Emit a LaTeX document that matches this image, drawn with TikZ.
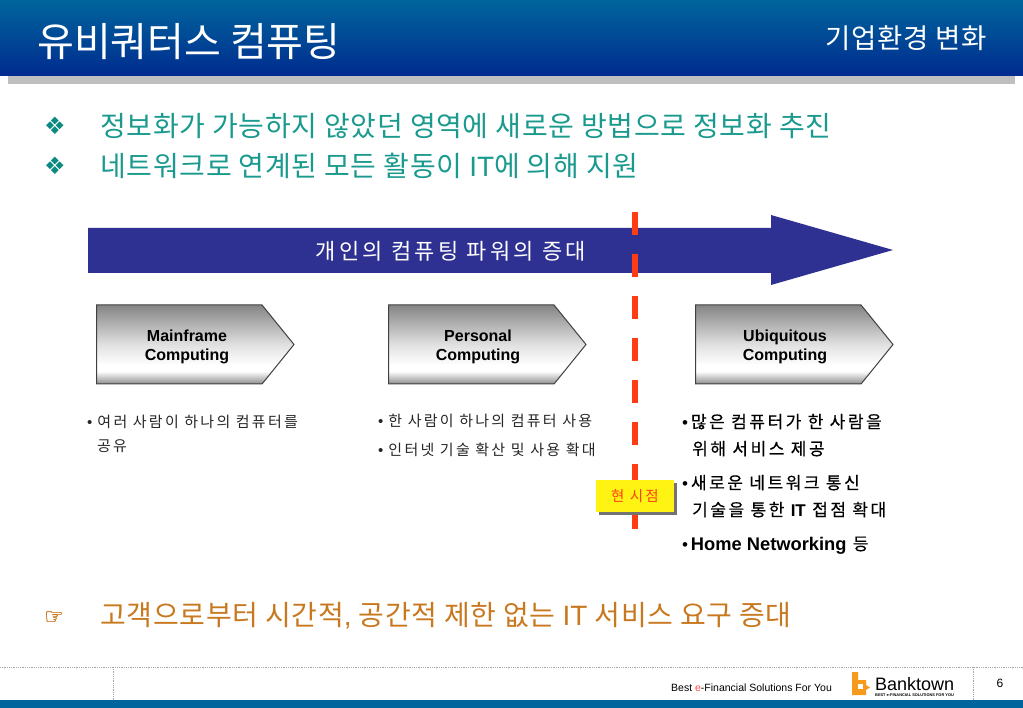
\documentclass[tikz,border=0pt]{standalone}
\usepackage{fontspec}
\setmainfont{Liberation Sans}
\newfontfamily\kr{Noto Sans CJK KR}
\newfontfamily\krwide[LetterSpace=15]{Noto Sans CJK KR}
\newfontfamily\krbold[LetterSpace=15,FakeBold=0.4]{Noto Sans CJK KR}
\newfontfamily\krtight[LetterSpace=2.5]{Noto Sans CJK KR}
\newfontfamily\symb{DejaVu Sans}
\newfontfamily\symbbold[FakeBold=1]{DejaVu Sans}
\usetikzlibrary{shapes.symbols}
\definecolor{headtop}{HTML}{00659C}
\definecolor{headbot}{HTML}{002B8F}
\definecolor{tealtext}{HTML}{1A9A8E}
\definecolor{tealmark}{HTML}{0A8A80}
\definecolor{ordertext}{HTML}{C8781E}
\definecolor{arrowblue}{HTML}{2E3192}
\definecolor{nowred}{HTML}{FF3D14}
\definecolor{logoorange}{HTML}{F59A1B}
\pgfdeclareverticalshading{chevshade}{100bp}{color(0bp)=(black!45); color(25bp)=(black!45); color(33bp)=(white); color(37bp)=(white); color(50bp)=(black!12); color(75bp)=(black!48); color(100bp)=(black!48)}
\newcommand{\lat}[1]{{\rmfamily #1}}
\newcommand{\fs}[2]{\fontsize{#1}{#2}\selectfont}
\tikzset{
	headline/.style={anchor=base west,text=white,inner sep=0pt,font=\kr\fs{40}{44}},
	bodyline/.style={anchor=base west,text=tealtext,inner sep=0pt,font=\krtight\fs{28}{34}},
	markline/.style={anchor=base west,text=tealmark,inner sep=0pt,font=\symb\fs{24}{26}},
	smalllist/.style={anchor=base west,align=left,inner sep=0pt,text=black!85,font=\krwide\fs{15}{24}},
	biglist/.style={anchor=base west,align=left,inner sep=0pt,text=black,font=\krbold\fs{17}{27}},
	chevron/.style={signal,signal to=east,signal pointer angle=102,draw=black!75,line width=1pt,
		minimum width=197.5pt,minimum height=79pt,inner sep=0pt,anchor=west,shading=chevshade},
	chevlabel/.style={align=center,inner sep=0pt,font=\bfseries\fs{16}{19}},
	footline/.style={draw=black!35,densely dotted,line width=0.8pt}
}
\begin{document}
\begin{tikzpicture}[x=1pt,y=-1pt]
	\useasboundingbox (0,0) rectangle (1023,708);
	\shade[top color=headtop,bottom color=headbot] (0,0) rectangle (1023,76);
	\fill[black!25] (8,76) rectangle (1015,84);
	\node[headline] (title) at (37,57) {유비쿼터스 컴퓨팅};
	\node[headline,font=\krtight\fs{27.5}{30}] (section) at (825,49) {기업환경 변화};

	\node[markline] (mark1) at (44,135) {❖};
	\node[bodyline] (point1) at (100,137) {정보화가 가능하지 않았던 영역에 새로운 방법으로 정보화 추진};
	\node[markline] (mark2) at (44,175) {❖};
	\node[bodyline] (point2) at (100,177) {네트워크로 연계된 모든 활동이 \lat{IT}에 의해 지원};

	\fill[arrowblue] (88,228) -- (771,228) -- (771,215) -- (893,250) -- (771,285) -- (771,273) -- (88,273) -- cycle;
	\node[anchor=base,text=white,inner sep=0pt,font=\krwide\fs{22}{26}] (powerlabel) at (451,260) {개인의 컴퓨팅 파워의 증대};

	\node[chevron] (mainframe) at (96,344.5) {};
	\node[chevron] (personal) at (388,344.5) {};
	\node[chevron] (ubiquitous) at (695,344.5) {};
	\node[chevlabel] (mainlabel) at (187,347) {Mainframe\\Computing};
	\node[chevlabel] (perlabel) at (478,347) {Personal\\Computing};
	\node[chevlabel] (ubilabel) at (785,347) {Ubiquitous\\Computing};

	\node[smalllist] (mainlist) at (87,451) {\lat{•}\,\,여러 사람이 하나의 컴퓨터를\\\hspace*{10pt}공유};
	\node[smalllist] (perlist) at (378,456) {\lat{•}\,\,한 사람이 하나의 컴퓨터 사용\\[5pt]\lat{•}\,\,인터넷 기술 확산 및 사용 확대};
	\node[biglist] (ubilist1) at (682,455) {\lat{•}\,많은 컴퓨터가 한 사람을\\\hspace*{10pt}위해 서비스 제공};
	\node[biglist] (ubilist2) at (682,516) {\lat{•}\,새로운 네트워크 통신\\\hspace*{10pt}기술을 통한 \lat{\bfseries IT} 접점 확대};
	\node[biglist] (ubilist3) at (682,550) {\lat{•}\,\lat{\bfseries\fs{18.3}{27}Home Networking} 등};

	\coordinate (nowtop) at (635,212);
	\coordinate (nowbot) at (635,529);
	\draw[nowred,line width=6pt,dash pattern=on 23pt off 19pt] (nowtop) -- (nowbot);
	\fill[black!55] (599,483) rectangle (677,515);
	\node[fill=yellow!92!white,minimum width=78pt,minimum height=32pt,inner sep=0pt,text=nowred,font=\krwide\fs{14.5}{16}] (now) at (635,496) {현 시점};

	\node[markline,text=ordertext,font=\symbbold\fs{22}{24}] (hand) at (44,624) {☞};
	\node[bodyline,text=ordertext] (demand) at (100,625) {고객으로부터 시간적\lat{,} 공간적 제한 없는 \lat{IT} 서비스 요구 증대};

	\fill[headtop] (0,700) rectangle (1023,708);
	\draw[footline] (0,667) -- (1023,667);
	\draw[footline] (113,667) -- (113,700);
	\draw[footline] (973,667) -- (973,700);
	\node[anchor=base west,inner sep=0pt,font=\fs{10.5}{12}] (slogan) at (671,691) {Best {\color{red!70!white}e}-Financial Solutions For You};
	\fill[logoorange] (852,672) -- (858,672) -- (858,680) -- (866,680) -- (866,685) -- (870,687.5) -- (866,690) -- (866,695) -- (852,695) -- cycle;
	\fill[white] (858,684) rectangle (863,689);
	\node[anchor=base west,inner sep=0pt,font=\fs{18}{20}] (brand) at (875,690) {Banktown};
	\node[anchor=base west,inner sep=0pt,font=\bfseries\fs{3.9}{4}] (brandline) at (875,696) {BEST e-FINANCIAL SOLUTIONS FOR YOU};
	\node[anchor=base,inner sep=0pt,font=\fs{12}{12}] (pageno) at (1000,687) {6};
\end{tikzpicture}
\end{document}
